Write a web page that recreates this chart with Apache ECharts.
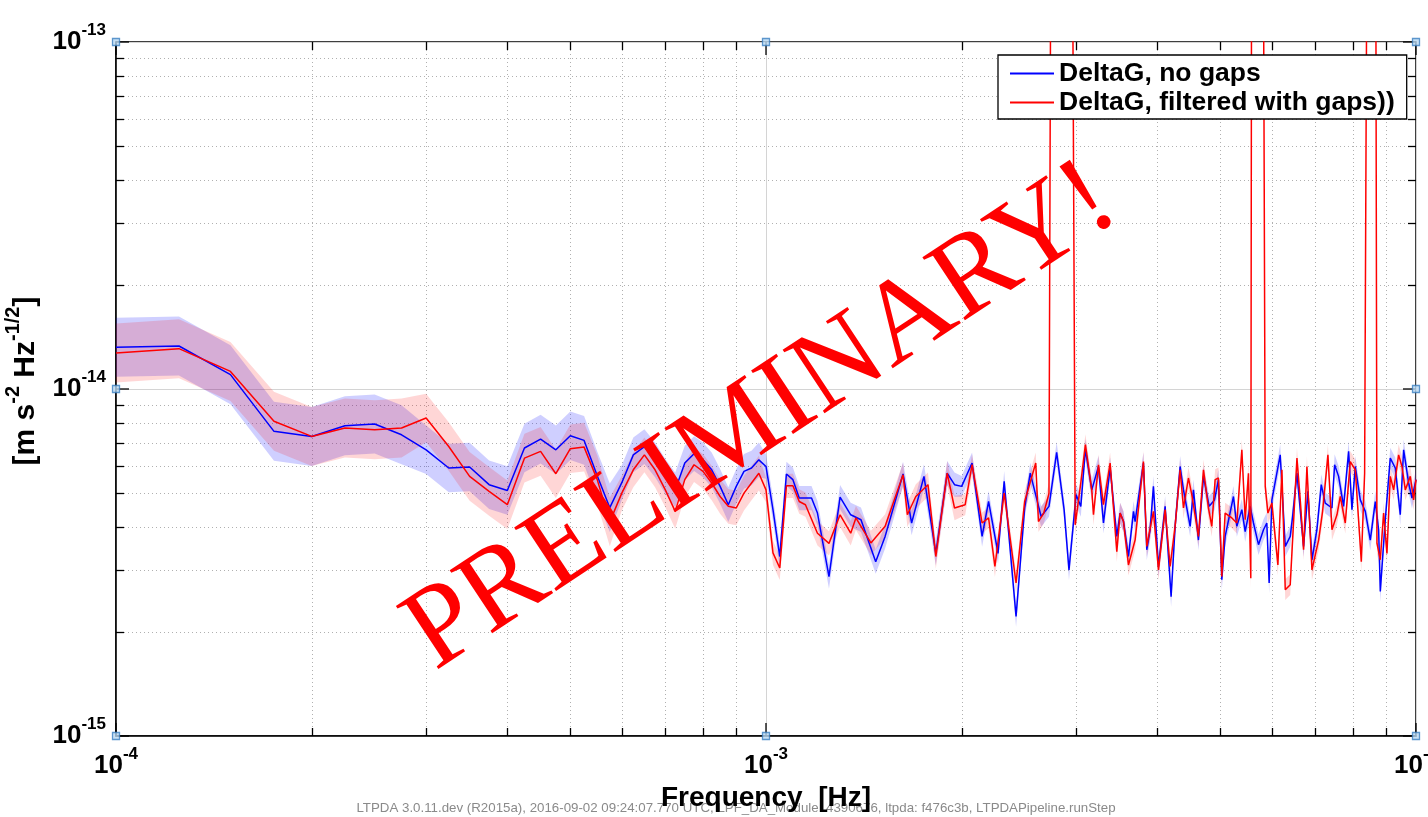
<!DOCTYPE html>
<html><head><meta charset="utf-8">
<script src="https://cdn.jsdelivr.net/npm/echarts@6/dist/echarts.min.js"></script>
<style>html,body{margin:0;padding:0;background:#fff}#c{width:1428px;height:817px}</style>
</head><body><div id="c"></div>
<script>
// ---- data (frequency in mHz, amplitude spectral density in 1e-15 m s^-2 Hz^-1/2) ----
const seriesNames = ['DeltaG, no gaps', 'DeltaG, filtered with gaps))'];
const blueFreqMHz = [0.1,0.125,0.15,0.175,0.2,0.225,0.25,0.275,0.3,0.325,0.35,0.375,0.4,0.425,0.45,0.475,0.5,0.525,0.55,0.575,0.6,0.625,0.65,0.675,0.7,0.725,0.75,0.775,0.8,0.825,0.85,0.875,0.9,0.925,0.95,0.975,1.0,1.025,1.05,1.075,
1.1,1.125,1.175,1.2,1.25,1.3,1.35,1.4,1.475,1.525,1.625,1.675,1.75,1.825,1.9,1.95,2.0,2.075,2.15,2.2,2.275,2.325,2.425,2.5,2.55,2.65,2.725,2.8,2.875,2.925,3.0,3.05,3.1,
3.171,3.247,3.305,3.384,3.465,3.506,3.548,3.611,3.676,3.697,3.808,3.853,3.899,3.945,4.016,4.112,4.2,4.26,4.336,4.388,4.493,4.546,4.627,4.71,4.806,4.898,4.967,5.026,5.086,5.238,5.301,5.396,5.46,5.557,5.623,5.724,5.826,5.895,5.944,6.002,6.182,6.293,6.405,6.459,6.559,6.715,6.819,6.917,7.04,7.149,7.251,7.425,7.495,7.602,7.738,7.877,7.97,8.065,8.209,8.356,8.505,8.657,8.76,8.812,8.969,9.129,9.292,9.458,9.571,9.742,9.858,10.0];
const blueASD = [13.2,13.3,11.0,7.55,7.30,7.84,7.93,7.38,6.68,5.92,5.96,5.30,5.10,6.76,7.17,6.68,7.33,7.11,5.62,4.55,5.37,6.46,6.82,6.25,5.60,5.12,6.12,6.51,6.25,5.85,5.24,4.64,5.24,5.79,5.92,6.25,5.98,4.49,3.29,5.69,
5.48,4.85,4.85,4.39,2.88,4.88,4.34,4.20,3.18,3.76,5.69,4.11,5.60,3.36,5.72,5.30,5.24,6.12,3.76,4.74,3.36,5.42,2.21,4.54,5.72,4.29,4.59,6.57,4.49,3.01,4.96,4.59,6.7,
5.12,5.98,4.11,5.92,3.76,4.39,4.15,3.29,4.44,4.15,6.12,3.44,3.93,5.24,3.08,4.59,2.52,4.02,5.98,5.12,4.02,5.12,3.67,5.60,4.59,4.79,5.48,2.82,3.76,4.90,4.02,4.49,3.88,4.59,4.11,3.56,3.93,4.11,2.76,4.79,6.46,3.52,3.76,4.29,5.72,3.52,5.07,3.22,3.93,5.30,4.69,4.54,6.05,5.60,4.59,6.61,4.49,5.98,4.79,4.44,3.67,4.74,3.93,2.61,4.20,6.32,5.92,4.34,6.68,5.36,4.85,5.48];
const redFreqMHz = [0.1,0.125,0.15,0.175,0.2,0.225,0.25,0.275,0.3,0.325,0.35,0.375,0.4,0.425,0.45,0.475,0.5,0.525,0.55,0.575,0.6,0.625,0.65,0.675,0.7,0.725,0.75,0.775,0.8,0.825,0.85,0.875,0.9,0.925,0.95,0.975,1.0,1.025,1.05,1.075,
1.1,1.125,1.15,1.2,1.25,1.3,1.35,1.375,1.45,1.525,1.625,1.65,1.7,1.775,1.825,1.9,1.95,2.025,2.075,2.15,2.2,2.25,2.325,2.425,2.5,2.6,2.625,2.675,2.725,2.75,2.95,2.99,3.05,3.1,
3.171,3.19,3.247,3.305,3.384,3.465,3.506,3.548,3.611,3.697,3.808,3.853,3.945,4.016,4.112,4.185,4.26,4.336,4.388,4.466,4.519,4.627,4.71,4.794,4.851,4.909,4.967,5.026,5.086,5.208,5.301,5.396,5.46,5.524,5.57,5.591,5.807,5.862,5.918,6.002,6.131,6.219,6.293,6.405,6.559,6.636,6.715,6.795,6.917,7.082,7.183,7.32,7.425,7.558,7.647,7.784,7.923,8.065,8.239,8.336,8.435,8.657,8.708,8.812,8.916,9.022,9.129,9.238,9.403,9.515,9.628,9.8,9.916,10.0];
const redASD = [12.7,13.07,11.24,8.07,7.30,7.72,7.63,7.72,8.25,6.83,5.60,5.07,4.64,6.32,6.61,5.70,6.73,6.80,5.48,4.14,5.01,5.85,6.46,5.85,5.12,4.44,5.48,6.05,5.79,5.36,4.90,4.59,4.54,5.01,5.36,5.72,5.12,3.37,3.05,5.26,
5.26,4.74,4.64,3.84,3.59,4.34,3.84,4.25,3.60,4.02,5.66,4.34,4.90,5.30,3.29,5.72,4.54,4.64,6.05,4.11,4.25,3.08,5.01,2.76,4.74,6.12,4.15,4.39,5.0,1000,1000,4.06,5.36,6.91,
5.12,4.34,6.05,4.64,6.12,3.40,4.39,4.15,3.11,3.67,6.18,3.52,4.44,3.01,4.49,3.08,4.02,5.85,4.54,5.54,4.96,3.76,5.85,4.54,4.02,5.48,5.54,2.88,4.39,4.25,4.11,6.68,4.20,5.72,2.85,1000,1000,5.24,4.39,4.69,3.11,5.85,2.64,2.73,6.32,4.79,3.44,5.98,3.01,3.67,4.44,6.46,3.93,4.34,4.90,4.11,6.18,5.85,3.18,5.72,1000,1000,3.59,3.22,4.39,3.36,5.60,5.12,6.46,5.98,5.12,5.60,4.79,5.48];
// uncertainty band half-width (log10 units) by frequency segment
const bandEdgesMHz = [0.3, 0.6, 1.0, 2.0];
const bandHalfWidthLog = [0.085, 0.07, 0.05, 0.035, 0.03];
// axis decorations
const xDecades = [1e-4, 1e-3, 1e-2];
const yDecades = [1e-15, 1e-14, 1e-13];
const minorSteps = [2, 3, 4, 5, 6, 7, 8, 9];
const cornerMarks = [[1e-4,1e-13],[1e-3,1e-13],[1e-2,1e-13],[1e-4,1e-14],[1e-2,1e-14],[1e-4,1e-15],[1e-3,1e-15],[1e-2,1e-15]];
const footerText = 'LTPDA 3.0.11.dev (R2015a), 2016-09-02 09:24:07.770 UTC, LPF_DA_Module: 4390676, ltpda: f476c3b, LTPDAPipeline.runStep';

const FONT = 'Liberation Sans';
function toPairs(f, v) { return f.map((x, i) => [x * 1e-3, v[i] * 1e-15]); }
function halfWidth(fm) { let i = 0; while (i < bandEdgesMHz.length && fm >= bandEdgesMHz[i]) i++; return bandHalfWidthLog[i]; }
function bandRenderer(freqs, vals, fill) {
  return function (params, api) {
    if (params.dataIndex !== 0) return;
    const up = [], lo = [];
    for (let i = 0; i < freqs.length; i++) {
      const k = Math.pow(10, halfWidth(freqs[i]));
      up.push(api.coord([freqs[i] * 1e-3, vals[i] * 1e-15 * k]));
      lo.push(api.coord([freqs[i] * 1e-3, vals[i] * 1e-15 / k]));
    }
    return { type: 'polygon', shape: { points: up.concat(lo.reverse()) }, style: { fill: fill } };
  };
}
function frameRenderer(params, api) {
  const cs = params.coordSys;
  const L = cs.x, R = cs.x + cs.width, T = cs.y, B = cs.y + cs.height;
  const ch = [];
  const dot = { stroke: '#b0b0b0', lineWidth: 1, lineDash: [1, 3] };
  const tk = { stroke: '#000', lineWidth: 1.3 };
  const seg = (x1, y1, x2, y2, s) => ch.push({ type: 'line', shape: { x1, y1, x2, y2 }, style: s });
  for (let d = 0; d < xDecades.length - 1; d++) for (const m of minorSteps) {
    const x = Math.round(api.coord([xDecades[d] * m, yDecades[0]])[0]) + 0.5;
    seg(x, T, x, B, dot); seg(x, B, x, B - 8, tk); seg(x, T, x, T + 8, tk);
  }
  for (let d = 0; d < yDecades.length - 1; d++) for (const m of minorSteps) {
    const y = Math.round(api.coord([xDecades[0], yDecades[d] * m])[1]) + 0.5;
    seg(L, y, R, y, dot); seg(L, y, L + 8, y, tk); seg(R, y, R - 8, y, tk);
  }
  for (const xv of xDecades) { const x = api.coord([xv, yDecades[0]])[0]; seg(x, B, x, B - 13, tk); seg(x, T, x, T + 13, tk); }
  for (const yv of yDecades) { const y = api.coord([xDecades[0], yv])[1]; seg(L, y, L + 13, y, tk); seg(R, y, R - 13, y, tk); }
  return { type: 'group', children: ch };
}
const tickRich = {
  b: { fontFamily: FONT, fontWeight: 'bold', fontSize: 26, color: '#000', padding: [7, 0, 7, 0] },
  s: { fontFamily: FONT, fontWeight: 'bold', fontSize: 17, color: '#000', verticalAlign: 'top' }
};
const tickFmt = v => '{b|10}{s|' + Math.round(Math.log10(v)) + '}';

const chart = echarts.init(document.getElementById('c'), null, { renderer: 'canvas' });
chart.setOption({
  animation: false,
  backgroundColor: '#fff',
  grid: { left: 116, right: 12, top: 42, bottom: 81, containLabel: false, outerBoundsMode: 'none', show: true, borderColor: '#000', borderWidth: 1.5, backgroundColor: 'transparent' },
  xAxis: {
    type: 'log', logBase: 10, min: 1e-4, max: 1e-2,
    axisLine: { show: true, lineStyle: { color: '#000', width: 1.5 } },
    axisTick: { show: false },
    splitLine: { show: true, lineStyle: { color: '#d4d4d4', width: 1 } },
    axisLabel: { margin: 10, formatter: tickFmt, rich: tickRich, hideOverlap: false },
    name: 'Frequency  [Hz]', nameLocation: 'middle', nameGap: 44,
    nameTextStyle: { fontFamily: FONT, fontWeight: 'bold', fontSize: 28, color: '#000' }
  },
  yAxis: {
    type: 'log', logBase: 10, min: 1e-15, max: 1e-13,
    axisLine: { show: true, lineStyle: { color: '#000', width: 1.5 } },
    axisTick: { show: false },
    splitLine: { show: true, lineStyle: { color: '#d4d4d4', width: 1 } },
    axisLabel: { margin: 10, formatter: tickFmt, rich: tickRich },
    name: '{f|[m s}{s|-2}{n| Hz}{s|-1/2}{n|]}', nameLocation: 'middle', nameGap: 75, nameRotate: 90,
    nameTextStyle: { rich: {
      f: { fontFamily: FONT, fontWeight: 'bold', fontSize: 30, color: '#000', padding: [8, 0, 0, 16] },
      n: { fontFamily: FONT, fontWeight: 'bold', fontSize: 30, color: '#000', padding: [8, 0, 0, 0] },
      s: { fontFamily: FONT, fontWeight: 'bold', fontSize: 20, color: '#000', verticalAlign: 'top' }
    } }
  },
  legend: {
    left: 998, top: 55, orient: 'vertical', padding: [5, 12, 3, 12], itemGap: 2,
    itemWidth: 44, itemHeight: 2, icon: 'rect',
    borderColor: '#000', borderWidth: 1.3, backgroundColor: '#fff',
    textStyle: { fontFamily: FONT, fontWeight: 'bold', fontSize: 26.5, color: '#000', lineHeight: 27 },
    data: seriesNames, z: 20
  },
  graphic: [
    { type: 'text', x: 736, y: 808, z: -10, style: { text: footerText, fontFamily: FONT, fontSize: 13.3, fill: '#8a8a8a', align: 'center', verticalAlign: 'middle' } },
    { type: 'text', x: 762, y: 418, rotation: 0.585, z: 200, style: { text: 'PRELIMINARY!', fontFamily: 'Liberation Serif', fontSize: 116, fill: '#ff0000', align: 'center', verticalAlign: 'middle' } }
  ],
  series: [
    { type: 'custom', name: 'frame', renderItem: frameRenderer, data: [[1e-3, 1e-14]], silent: true, z: 1 },
    { type: 'custom', name: 'blueBand', renderItem: bandRenderer(blueFreqMHz, blueASD, 'rgba(0,0,255,0.19)'), data: [[1e-3, 1e-14]], clip: true, silent: true, z: 2 },
    { type: 'custom', name: 'redBand', renderItem: bandRenderer(redFreqMHz, redASD, 'rgba(255,0,0,0.16)'), data: [[1e-3, 1e-14]], clip: true, silent: true, z: 2 },
    { type: 'line', name: seriesNames[0], data: toPairs(blueFreqMHz, blueASD), showSymbol: false, clip: true, color: '#0000ff', lineStyle: { width: 1.5, color: '#0000ff' }, z: 3 },
    { type: 'line', name: seriesNames[1], data: toPairs(redFreqMHz, redASD), showSymbol: false, clip: true, color: '#ff0000', lineStyle: { width: 1.5, color: '#ff0000' }, z: 4 },
    { type: 'scatter', name: 'marks', data: cornerMarks, symbol: 'rect', symbolSize: 7, clip: false, silent: true, z: 10,
      itemStyle: { color: '#b8d8f2', borderColor: '#3b7fc0', borderWidth: 1.3 } }
  ]
});
</script>
</body></html>
